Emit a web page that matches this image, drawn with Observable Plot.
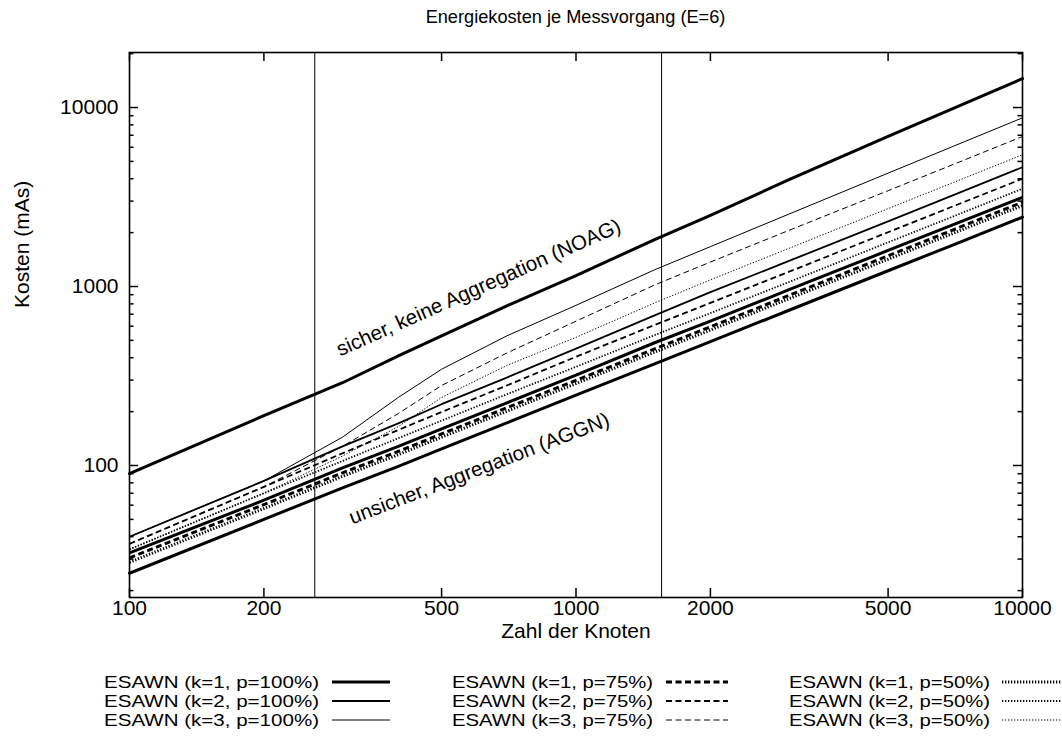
<!DOCTYPE html>
<html><head><meta charset="utf-8">
<script src="https://cdn.jsdelivr.net/npm/d3@7"></script>
<script src="https://cdn.jsdelivr.net/npm/@observablehq/plot@0.6"></script>
<style>
body{margin:0;background:#fff;font-family:"Liberation Sans",Arial,sans-serif;color:#000;}
#title{height:36px;line-height:34px;font-size:18.2px;text-align:center;padding-left:129px;width:893px;}
#chart svg, #legend svg{display:block;}
</style></head><body>
<div id="title">Energiekosten je Messvorgang (E=6)</div>
<div id="chart"></div>
<div id="legend"></div>
<script>
// ---- data ----
const knoten = [100, 200, 300, 400, 500, 700, 1000, 1500, 2000, 3000, 5000, 7000, 10000];
const noag   = [90, 190, 290, 410, 530, 780, 1150, 1830, 2500, 3950, 6900, 9900, 14500];
const aggn   = [25, 50, 75, 99, 124, 173, 247, 370, 492, 737, 1225, 1710, 2440];
const k1p100 = [32.5, 64, 97, 128, 160, 224, 320, 485, 640, 960, 1590, 2220, 3150];
const k1p75  = [30.5, 60.5, 91, 120, 150, 210, 299, 448, 595, 892, 1485, 2075, 2960];
const k1p50  = [28.8, 57.5, 87, 115, 144, 201, 287, 430, 571, 855, 1420, 1985, 2835];
const k2p100 = [40, 82, 128, 172, 220, 310, 450, 690, 930, 1390, 2310, 3240, 4640];
const k2p75  = [36.5, 76, 117, 158, 199, 280, 405, 610, 810, 1210, 2010, 2810, 4000];
const k2p50  = [34, 70, 106, 142, 178, 250, 356, 535, 710, 1060, 1765, 2465, 3520];
const k3p100 = [40, 82, 144, 240, 345, 530, 785, 1240, 1670, 2540, 4300, 6075, 8760];
const k3p75  = [36.5, 76, 128, 195, 280, 425, 640, 1020, 1370, 2060, 3430, 4810, 6890];
const k3p50  = [34, 70, 113, 165, 240, 362, 520, 810, 1090, 1635, 2725, 3810, 5445];
const markerLines = [260, 1555];
const xTicks = [100, 200, 500, 1000, 2000, 5000, 10000];
const yTicks = [100, 1000, 10000];
const yMinor = [20,30,40,50,60,70,80,90,200,300,400,500,600,700,800,900,2000,3000,4000,5000,6000,7000,8000,9000,20000];
const legendLabels = [
  "ESAWN (k=1, p=100%)","ESAWN (k=2, p=100%)","ESAWN (k=3, p=100%)",
  "ESAWN (k=1, p=75%)","ESAWN (k=2, p=75%)","ESAWN (k=3, p=75%)",
  "ESAWN (k=1, p=50%)","ESAWN (k=2, p=50%)","ESAWN (k=3, p=50%)"
];
const curveLabels = ["sicher, keine Aggregation (NOAG)", "unsicher, Aggregation (AGGN)"];
const xLabel = "Zahl der Knoten";
const yLabel = "Kosten (mAs)";

// ---- styles ----
const W = {1: 3, 2: 1.8, 3: 1};
const DASH = {100: null, 75: "6,3.5", 50: "1.3,1.7"};
const esawn = [
  {k:1,p:100,v:k1p100},{k:2,p:100,v:k2p100},{k:3,p:100,v:k3p100},
  {k:1,p:75,v:k1p75},{k:2,p:75,v:k2p75},{k:3,p:75,v:k3p75},
  {k:1,p:50,v:k1p50},{k:2,p:50,v:k2p50},{k:3,p:50,v:k3p50}
];
esawn.forEach((s,i)=>{ s.label = legendLabels[i]; s.sw = W[s.k]; s.dash = DASH[s.p]; });

const toRows = v => knoten.map((x,i)=>({x, y: v[i]}));

const fw = 1062 - 129 - 40, fh = 597 - 52;
const marks = [];
marks.push(Plot.ruleX(markerLines, {stroke: "#000", strokeWidth: 1}));
marks.push(Plot.line(toRows(noag), {x:"x", y:"y", stroke:"#000", strokeWidth:3}));
marks.push(Plot.line(toRows(aggn), {x:"x", y:"y", stroke:"#000", strokeWidth:3}));
for (const s of esawn) {
  marks.push(Plot.line(toRows(s.v), {x:"x", y:"y", stroke:"#000", strokeWidth:s.sw,
    strokeDasharray: s.dash || undefined, strokeLinecap: "butt"}));
}
// inward ticks (bottom/top, left/right)
marks.push(Plot.tickX(xTicks, {x: d=>d, insetTop: fh-9, stroke:"#000", strokeWidth:1.5}));
marks.push(Plot.tickX(xTicks, {x: d=>d, insetBottom: fh-9, stroke:"#000", strokeWidth:1.5}));
marks.push(Plot.tickY(yTicks, {y: d=>d, insetRight: fw-9, stroke:"#000", strokeWidth:1.5}));
marks.push(Plot.tickY(yTicks, {y: d=>d, insetLeft: fw-9, stroke:"#000", strokeWidth:1.5}));
marks.push(Plot.tickY(yMinor, {y: d=>d, insetRight: fw-4.5, stroke:"#000", strokeWidth:1.5}));
marks.push(Plot.tickY(yMinor, {y: d=>d, insetLeft: fw-4.5, stroke:"#000", strokeWidth:1.5}));
marks.push(Plot.frame({stroke:"#000", strokeWidth:1.6}));
marks.push(Plot.axisX({ticks: xTicks, tickFormat: d=>String(d), tickSize: 0, tickPadding: 3,
  label: null, fontSize: 21}));
marks.push(Plot.axisY({ticks: yTicks, tickFormat: d=>String(d), tickSize: 0, tickPadding: 11,
  label: null, fontSize: 21}));
marks.push(Plot.text([xLabel], {text: d=>d, frameAnchor: "bottom", dy: 40, fontSize: 21, fill: "#000"}));
marks.push(Plot.text([yLabel], {text: d=>d, frameAnchor: "left", rotate: -90, dx: -107, dy: -17, fontSize: 21, fill: "#000"}));
marks.push(Plot.text([{x: 605, y: 985, t: curveLabels[0]}], {x:"x", y:"y", text:"t", rotate:-24, fontSize:20.5, fill:"#000"}));
marks.push(Plot.text([{x: 607, y: 96, t: curveLabels[1]}], {x:"x", y:"y", text:"t", rotate:-21, fontSize:20.5, fill:"#000"}));

const chart = Plot.plot({
  width: 1062, height: 624,
  marginLeft: 129, marginRight: 40, marginTop: 16, marginBottom: 63,
  style: {fontFamily: '"Liberation Sans", Arial, sans-serif', fontSize: "21px", background: "#fff", color: "#000"},
  x: {type: "log", domain: [100, 10000]},
  y: {type: "log", domain: [18.3, 20300]},
  marks
});
document.getElementById("chart").appendChild(chart);

// ---- legend ----
const lg = d3.select("#legend").append("svg").attr("width", 1062).attr("height", 76)
  .style("font-family", '"Liberation Sans", Arial, sans-serif').style("font-size", "17px");
const colTextEnd = [319, 653, 990];
const colTextWidth = [215, 201, 201];
const colLine = [[332, 390], [666, 728], [1002, 1062]];
const rowMid = [22, 41, 60];
esawn.forEach((s, i) => {
  const c = Math.floor(i / 3), r = i % 3;
  lg.append("text").attr("x", colTextEnd[c]).attr("y", rowMid[r]).attr("dy", "0.35em")
    .attr("text-anchor", "end").attr("fill", "#000")
    .attr("textLength", colTextWidth[c]).attr("lengthAdjust", "spacingAndGlyphs")
    .text(s.label);
  lg.append("line").attr("x1", colLine[c][0]).attr("x2", colLine[c][1])
    .attr("y1", rowMid[r]).attr("y2", rowMid[r])
    .attr("stroke", "#000").attr("stroke-width", s.sw)
    .attr("stroke-dasharray", s.dash).attr("stroke-linecap", "butt");
});
</script>
</body></html>
